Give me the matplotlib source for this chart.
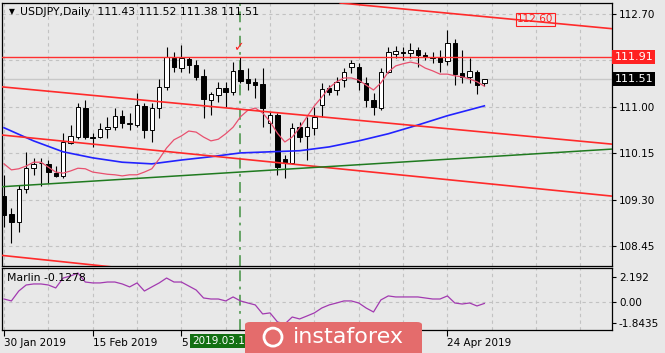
import matplotlib
matplotlib.use('Agg')
import matplotlib.pyplot as plt
from matplotlib.patches import FancyBboxPatch, Ellipse
from matplotlib.transforms import blended_transform_factory
import numpy as np

# daily USDJPY candles, 30 Jan 2019 .. 1 May 2019 (bar index 0..65)
opens = [109.37, 109.04, 108.89, 109.50, 109.88, 109.97, 109.96, 109.79, 109.74, 110.34,
         110.45, 110.98, 110.45, 110.45, 110.60, 110.63, 110.84, 110.69, 110.67, 111.02,
         110.58, 110.98, 111.37, 111.90, 111.71, 111.88, 111.77, 111.57, 111.13, 111.22,
         111.35, 111.27, 111.68, 111.51, 111.46, 111.42, 110.71, 110.85, 110.05, 109.98,
         110.63, 110.47, 110.62, 111.04, 111.35, 111.31, 111.49, 111.73, 111.73, 111.44,
         111.13, 110.98, 111.64, 111.97, 112.01, 111.99, 112.04, 111.95, 111.92, 111.91,
         111.84, 112.17, 111.62, 111.55, 111.64, 111.43]
highs = [109.76, 109.15, 109.57, 110.18, 110.07, 110.07, 110.03, 109.92, 110.52, 110.67,
         111.07, 111.13, 110.52, 110.71, 110.82, 110.98, 110.95, 110.89, 111.26, 111.07,
         111.07, 111.51, 112.10, 112.01, 112.13, 111.91, 111.86, 111.69, 111.27, 111.46,
         111.46, 111.82, 111.91, 111.71, 111.53, 111.71, 110.91, 110.89, 110.12, 110.71,
         110.73, 110.82, 111.00, 111.44, 111.40, 111.55, 111.71, 111.86, 111.80, 111.55,
         111.26, 111.71, 112.10, 112.12, 112.10, 112.17, 112.10, 112.01, 112.01, 112.04,
         112.41, 112.24, 112.04, 111.90, 111.68, 111.52]
lows = [108.81, 108.51, 108.71, 109.43, 109.76, 109.56, 109.61, 109.72, 109.70, 110.33,
        110.41, 110.41, 110.27, 110.43, 110.43, 110.58, 110.62, 110.58, 110.63, 110.43,
        110.36, 110.80, 111.31, 111.64, 111.64, 111.62, 111.49, 110.80, 110.85, 111.09,
        111.00, 111.22, 111.44, 111.31, 111.16, 110.63, 110.52, 109.76, 109.70, 109.96,
        110.36, 110.03, 110.49, 110.82, 111.22, 111.22, 111.37, 111.62, 111.31, 111.00,
        110.85, 110.94, 111.62, 111.90, 111.86, 111.90, 111.73, 111.86, 111.80, 111.64,
        111.77, 111.40, 111.44, 111.44, 111.24, 111.38]
closes = [109.03, 108.90, 109.50, 109.88, 109.96, 109.98, 109.81, 109.74, 110.36, 110.47,
          111.00, 110.45, 110.43, 110.60, 110.63, 110.84, 110.71, 110.70, 111.04, 110.58,
          110.98, 111.37, 111.91, 111.73, 111.90, 111.77, 111.55, 111.15, 111.24, 111.35,
          111.27, 111.66, 111.48, 111.44, 111.40, 110.98, 110.85, 109.90, 109.98, 110.62,
          110.45, 110.63, 110.82, 111.33, 111.27, 111.46, 111.64, 111.80, 111.46, 111.13,
          111.00, 111.64, 112.01, 112.02, 111.99, 112.04, 111.95, 111.91, 111.90, 111.82,
          112.17, 111.60, 111.55, 111.66, 111.40, 111.51]

# fast moving average (pink)
ma_fast = [109.96, 109.85, 109.87, 109.92, 109.99, 109.99, 109.90, 109.81, 109.79, 109.83,
           109.88, 109.87, 109.81, 109.79, 109.77, 109.76, 109.74, 109.76, 109.76, 109.81,
           109.87, 110.05, 110.25, 110.40, 110.47, 110.56, 110.54, 110.45, 110.38, 110.41,
           110.51, 110.63, 110.82, 110.94, 110.98, 110.89, 110.73, 110.52, 110.36, 110.45,
           110.62, 110.82, 111.02, 111.18, 111.35, 111.46, 111.53, 111.53, 111.49, 111.40,
           111.31, 111.44, 111.64, 111.75, 111.79, 111.82, 111.79, 111.71, 111.66, 111.60,
           111.60, 111.57, 111.55, 111.51, 111.46, 111.38]

# slow moving average (blue), read every 4 bars
ma_slow_bars = [0, 4, 8, 12, 16, 20, 24, 28, 32, 36, 40, 44, 48, 52, 56, 60, 65]
ma_slow = [110.62, 110.38, 110.18, 110.07, 109.99, 109.96, 110.03, 110.09, 110.16,
           110.18, 110.20, 110.27, 110.38, 110.51, 110.67, 110.84, 111.02]

# Marlin oscillator
marlin = [0.26, 0.09, 0.96, 1.49, 1.58, 1.58, 1.49, 1.23, 2.10, 2.28, 2.54, 1.75, 1.67,
          1.67, 1.75, 1.75, 1.58, 1.32, 1.67, 0.96, 1.32, 1.67, 2.10, 1.75, 1.75, 1.40,
          1.05, 0.35, 0.26, 0.26, 0.09, 0.44, 0.09, -0.09, -0.26, -1.05, -0.96, -1.75,
          -1.93, -1.32, -1.49, -1.23, -0.96, -0.53, -0.26, -0.09, 0.09, 0.09, -0.09,
          -0.53, -0.88, 0.18, 0.53, 0.44, 0.44, 0.44, 0.44, 0.35, 0.26, 0.26, 0.53,
          -0.09, -0.18, -0.09, -0.35, -0.13]

# trend lines: (bar, price) end points
red_lines = [([45.5, 82.3], [112.90, 112.43]),
             ([-0.5, 82.3], [111.37, 110.32]),
             ([-0.5, 82.3], [110.49, 109.37]),
             ([-0.5, 20.0], [108.29, 108.00])]
green_line = ([-0.5, 82.3], [109.54, 110.23])
level = 111.91
target = 112.60
marker_bar = 32

price_ticks = [112.70, 111.85, 111.00, 110.15, 109.30, 108.45]
price_labels = ['112.70', '', '111.00', '110.15', '109.30', '108.45']
marlin_ticks = [2.192, 0.0, -1.8435]
marlin_labels = ['2.192', '0.00', '-1.8435']
# labels at 36 and 48 are hidden under the watermark, 5 Mar under the line's date box
date_bars = [0, 12, 24, 36, 48, 60]
date_labels = ['30 Jan 2019', '15 Feb 2019', '5', '', '', '24 Apr 2019']

bg = '#e8e8e8'
grid_kw = dict(color='#c2c2c2', lw=0.8, ls=(0, (3, 3)))
fs = 7.5

fig = plt.figure(figsize=(6.65, 3.53), dpi=100, facecolor=bg)
ax = fig.add_axes([2 / 665, 87 / 353, 610 / 665, 263 / 353], facecolor=bg)
ax2 = fig.add_axes([2 / 665, 23 / 353, 610 / 665, 62 / 353], facecolor=bg)

for a in (ax, ax2):
    a.set_xlim(-0.27, 82.27)
    for g in np.arange(0, 83, 6):
        a.axvline(g, zorder=0, **grid_kw)
    a.axvline(marker_bar, color='#5c9e5c', lw=1.3, ls=(0, (6, 3, 1.5, 3)), zorder=2)
    for s in a.spines.values():
        s.set_color('black')
        s.set_linewidth(0.9)

# main chart
ax.set_ylim(108.093, 112.90)
ax.yaxis.tick_right()
ax.set_yticks(price_ticks)
ax.set_yticklabels(price_labels)
ax.tick_params(axis='y', length=3, pad=2, labelsize=fs, colors='black')
ax.tick_params(axis='x', length=0, labelbottom=False)
for p in price_ticks:
    ax.axhline(p, zorder=0, **grid_kw)
ax.axhline(closes[-1], color='#c8c8c8', lw=1, zorder=1)

idx = np.arange(len(opens))
o, h, l, c = (np.array(v) for v in (opens, highs, lows, closes))
up = c >= o
ax.vlines(idx, l, h, color='black', lw=0.8, zorder=3)
ax.bar(idx, np.maximum(np.abs(c - o), 0.012), bottom=np.minimum(o, c), width=0.6,
       color=np.where(up, 'white', 'black'), edgecolor='black', lw=0.7, zorder=4)

ax.plot(ma_slow_bars, ma_slow, color='#2222ff', lw=1.2, zorder=5)
ax.plot(idx, ma_fast, color='#e8506e', lw=0.9, zorder=5)
for xs, ys in red_lines:
    ax.plot(xs, ys, color='#ff2a2a', lw=1.2, zorder=5)
ax.plot(*green_line, color='#1f7a1f', lw=1.1, zorder=5)
ax.axhline(level, color='#ff3030', lw=1, zorder=5)

ax.text(71.9, target, f'{target:.2f}', color='#ff2020', fontsize=fs, ha='center', va='center',
        bbox=dict(facecolor='none', edgecolor='#ff2020', lw=0.8, pad=1.2), zorder=6)
ax.text(marker_bar - 0.3, 112.08, '\u2713', color='#ff2020', fontsize=9, ha='center',
        va='center', zorder=6)

tr = blended_transform_factory(ax.transAxes, ax.transData)
ax.text(1.004, level, f'{level:.2f}', transform=tr, color='white', fontsize=fs + 0.5,
        ha='left', va='center', bbox=dict(facecolor='#ff2222', edgecolor='none', pad=1.6),
        zorder=7, clip_on=False)
ax.text(1.004, closes[-1], f'{closes[-1]:.2f}', transform=tr, color='white',
        fontsize=fs + 0.5, ha='left', va='center',
        bbox=dict(facecolor='black', edgecolor='none', pad=1.6), zorder=7, clip_on=False)

ax.text(0.016, 0.966, '\u25bc', transform=ax.transAxes, fontsize=5.5, ha='center',
        va='center', color='black')
ax.text(0.029, 0.966, 'USDJPY,Daily  %.2f %.2f %.2f %.2f' % (opens[-1], highs[-1], lows[-1], closes[-1]),
        transform=ax.transAxes, fontsize=fs + 0.3, ha='left', va='center', color='black')

# Marlin sub-window
ax2.set_ylim(-2.46, 2.98)
ax2.axhline(0, zorder=0, **grid_kw)
ax2.plot(idx, marlin, color='#a23ab0', lw=0.9, zorder=3)
ax2.yaxis.tick_right()
ax2.set_yticks(marlin_ticks)
ax2.set_yticklabels(marlin_labels)
ax2.tick_params(axis='y', length=3, pad=2, labelsize=fs, colors='black')
ax2.set_xticks(date_bars)
ax2.set_xticklabels(date_labels)
ax2.tick_params(axis='x', length=4, pad=2, labelsize=fs, colors='black')
for t in ax2.get_xticklabels():
    t.set_ha('left')
ax2.text(0.008, 0.84, 'Marlin %.4f' % -0.1278, transform=ax2.transAxes, fontsize=fs + 0.3,
         ha='left', va='center', color='black')

# vertical line date box (cut off by the watermark)
fig.text(192 / 665, 1 - 341 / 353, '2019.03.1', color='white', fontsize=fs, ha='left',
         va='center', bbox=dict(facecolor='#137013', edgecolor='none', pad=1.5), zorder=4)

# watermark logo
logo = FancyBboxPatch((245 / 665, -0.05), 177 / 665, 0.05 + 31 / 353,
                      boxstyle='round,pad=0,rounding_size=0.008', transform=fig.transFigure,
                      facecolor='#e46c6c', edgecolor='none', zorder=5)
fig.add_artist(logo)
fig.add_artist(Ellipse((273 / 665, 0.045), 18 / 665, 18 / 353, transform=fig.transFigure,
                       facecolor='none', edgecolor='white', lw=2, zorder=6))
fig.text(348 / 665, 0.045, 'instaforex', color='white', fontsize=16, ha='center',
         va='center', zorder=6)

fig.savefig('out.png', dpi=100, facecolor=bg)
